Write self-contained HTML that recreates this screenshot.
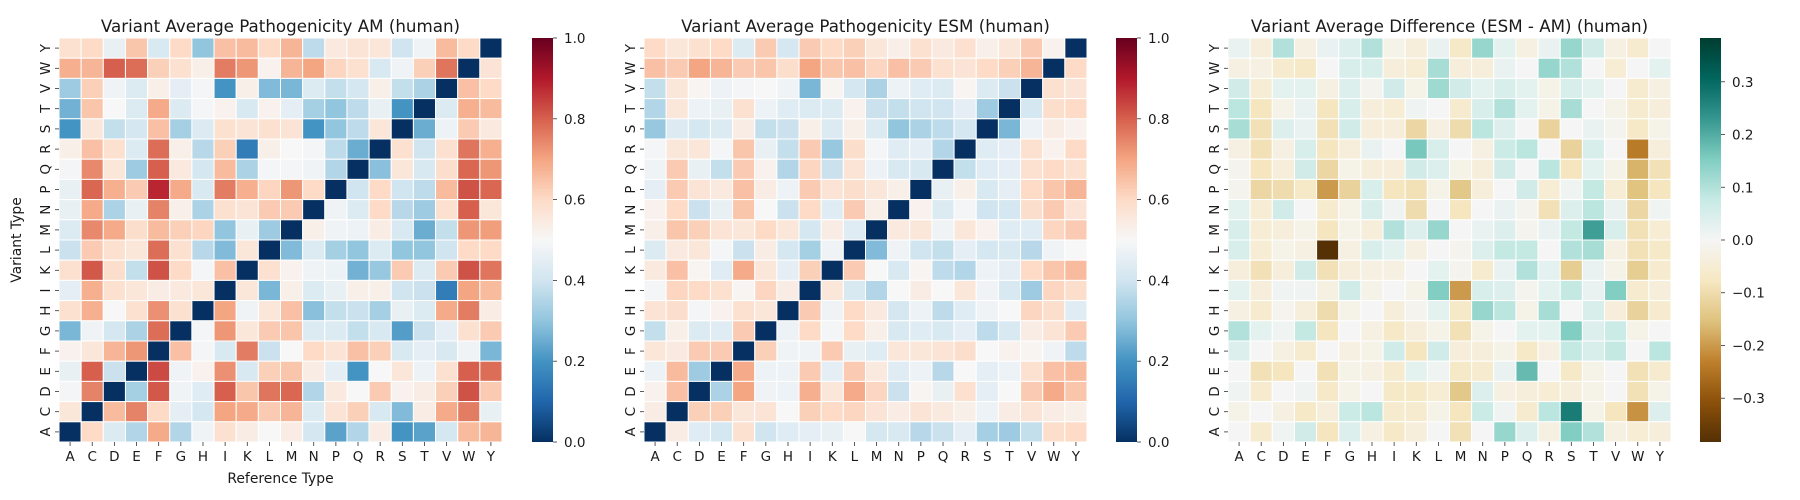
<!DOCTYPE html>
<html><head><meta charset="utf-8"><style>
html,body{margin:0;padding:0;background:#fff;}
svg{display:block;font-family:"DejaVu Sans","Liberation Sans",sans-serif;}
</style></head><body>
<svg id="chart" width="1800" height="500" viewBox="0 0 1800 500" xmlns="http://www.w3.org/2000/svg"></svg>
<script>
const refTypes = ["A","C","D","E","F","G","H","I","K","L","M","N","P","Q","R","S","T","V","W","Y"];
const variantTypes = ["Y","W","V","T","S","R","Q","P","N","M","L","K","I","H","G","F","E","D","C","A"];
const amValues = [
[0.58,0.6,0.46,0.64,0.42,0.6,0.3,0.65,0.66,0.6,0.67,0.37,0.55,0.57,0.56,0.4,0.48,0.66,0.6,0.0],
[0.68,0.67,0.8,0.78,0.62,0.58,0.53,0.76,0.72,0.52,0.67,0.7,0.61,0.58,0.42,0.48,0.62,0.77,0.0,0.57],
[0.32,0.62,0.48,0.43,0.53,0.45,0.49,0.2,0.53,0.28,0.27,0.43,0.38,0.41,0.53,0.38,0.34,0.0,0.65,0.6],
[0.26,0.64,0.5,0.43,0.69,0.43,0.49,0.52,0.42,0.52,0.45,0.33,0.3,0.37,0.46,0.2,0.0,0.43,0.68,0.66],
[0.2,0.56,0.38,0.41,0.65,0.33,0.43,0.58,0.57,0.58,0.57,0.2,0.3,0.37,0.56,0.0,0.25,0.47,0.63,0.55],
[0.53,0.65,0.58,0.43,0.78,0.53,0.36,0.62,0.15,0.53,0.5,0.49,0.37,0.25,0.0,0.58,0.4,0.58,0.77,0.68],
[0.49,0.74,0.56,0.32,0.8,0.55,0.41,0.66,0.34,0.49,0.49,0.48,0.35,0.0,0.29,0.56,0.42,0.59,0.79,0.72],
[0.46,0.79,0.68,0.63,0.88,0.69,0.42,0.76,0.68,0.61,0.72,0.6,0.0,0.4,0.6,0.4,0.37,0.66,0.82,0.79],
[0.46,0.69,0.34,0.46,0.75,0.53,0.34,0.58,0.57,0.63,0.63,0.0,0.48,0.43,0.6,0.36,0.32,0.58,0.8,0.56],
[0.43,0.74,0.69,0.59,0.66,0.62,0.61,0.3,0.46,0.32,0.0,0.53,0.48,0.47,0.54,0.42,0.25,0.38,0.72,0.71],
[0.39,0.63,0.58,0.56,0.78,0.58,0.36,0.28,0.56,0.0,0.28,0.43,0.33,0.3,0.43,0.3,0.3,0.4,0.6,0.6],
[0.58,0.81,0.59,0.38,0.82,0.6,0.49,0.65,0.0,0.58,0.52,0.48,0.47,0.26,0.31,0.63,0.43,0.63,0.82,0.77],
[0.45,0.68,0.58,0.56,0.54,0.55,0.56,0.0,0.56,0.27,0.53,0.43,0.46,0.53,0.53,0.4,0.39,0.15,0.7,0.66],
[0.58,0.68,0.5,0.58,0.73,0.58,0.0,0.7,0.48,0.56,0.65,0.29,0.38,0.39,0.33,0.46,0.43,0.69,0.76,0.54],
[0.27,0.48,0.41,0.34,0.78,0.0,0.49,0.72,0.56,0.63,0.64,0.43,0.43,0.38,0.42,0.22,0.39,0.45,0.58,0.63],
[0.52,0.56,0.67,0.72,0.0,0.65,0.49,0.42,0.76,0.39,0.5,0.6,0.57,0.65,0.62,0.42,0.45,0.42,0.48,0.27],
[0.46,0.8,0.39,0.0,0.83,0.48,0.52,0.73,0.42,0.62,0.64,0.54,0.45,0.2,0.5,0.56,0.47,0.58,0.8,0.78],
[0.49,0.75,0.0,0.33,0.81,0.48,0.44,0.8,0.64,0.77,0.79,0.35,0.55,0.5,0.63,0.52,0.54,0.62,0.82,0.63],
[0.56,0.0,0.66,0.75,0.6,0.45,0.41,0.7,0.69,0.63,0.67,0.43,0.57,0.62,0.42,0.28,0.54,0.69,0.76,0.46],
[0.0,0.6,0.43,0.35,0.69,0.35,0.48,0.58,0.54,0.5,0.54,0.41,0.23,0.35,0.54,0.2,0.23,0.41,0.66,0.67]];
const esmValues = [
[0.6,0.56,0.58,0.6,0.43,0.63,0.41,0.63,0.6,0.62,0.56,0.53,0.58,0.55,0.58,0.53,0.56,0.63,0.52,0.0],
[0.65,0.63,0.7,0.67,0.63,0.64,0.59,0.7,0.64,0.65,0.61,0.65,0.63,0.58,0.57,0.6,0.62,0.67,0.0,0.6],
[0.38,0.56,0.51,0.47,0.49,0.5,0.48,0.27,0.51,0.41,0.34,0.47,0.44,0.43,0.51,0.43,0.39,0.0,0.58,0.57],
[0.35,0.56,0.47,0.46,0.58,0.47,0.44,0.43,0.43,0.52,0.39,0.38,0.4,0.4,0.45,0.32,0.0,0.41,0.59,0.6],
[0.31,0.43,0.41,0.43,0.54,0.38,0.39,0.53,0.43,0.53,0.43,0.3,0.34,0.37,0.41,0.0,0.27,0.47,0.54,0.52],
[0.49,0.56,0.56,0.49,0.64,0.46,0.38,0.63,0.31,0.59,0.49,0.44,0.45,0.35,0.0,0.44,0.45,0.58,0.52,0.6],
[0.48,0.63,0.46,0.38,0.63,0.52,0.35,0.61,0.39,0.57,0.47,0.42,0.42,0.0,0.38,0.44,0.45,0.58,0.6,0.58],
[0.45,0.63,0.57,0.55,0.65,0.54,0.47,0.63,0.57,0.59,0.56,0.53,0.0,0.46,0.53,0.42,0.45,0.6,0.64,0.67],
[0.52,0.6,0.39,0.46,0.64,0.5,0.39,0.6,0.44,0.63,0.53,0.0,0.52,0.43,0.49,0.4,0.41,0.59,0.63,0.57],
[0.53,0.64,0.62,0.57,0.56,0.6,0.56,0.41,0.54,0.44,0.0,0.55,0.56,0.48,0.56,0.52,0.44,0.44,0.61,0.63],
[0.43,0.55,0.56,0.49,0.39,0.54,0.41,0.33,0.48,0.0,0.28,0.48,0.4,0.38,0.45,0.41,0.42,0.36,0.48,0.5],
[0.55,0.65,0.51,0.44,0.69,0.56,0.45,0.62,0.0,0.63,0.5,0.42,0.51,0.37,0.35,0.47,0.45,0.6,0.64,0.66],
[0.49,0.61,0.6,0.58,0.51,0.61,0.54,0.0,0.56,0.42,0.35,0.5,0.54,0.5,0.56,0.48,0.42,0.32,0.61,0.59],
[0.57,0.59,0.49,0.52,0.58,0.56,0.0,0.63,0.48,0.6,0.55,0.41,0.47,0.37,0.44,0.48,0.5,0.61,0.59,0.44],
[0.38,0.53,0.43,0.44,0.63,0.0,0.47,0.6,0.49,0.6,0.53,0.42,0.44,0.42,0.45,0.37,0.42,0.54,0.57,0.63],
[0.56,0.55,0.63,0.63,0.0,0.62,0.48,0.48,0.63,0.46,0.44,0.56,0.56,0.57,0.59,0.5,0.52,0.51,0.48,0.37],
[0.47,0.66,0.32,0.0,0.69,0.47,0.47,0.63,0.45,0.63,0.55,0.44,0.47,0.36,0.5,0.45,0.47,0.58,0.65,0.66],
[0.52,0.65,0.0,0.34,0.7,0.48,0.47,0.68,0.56,0.69,0.61,0.39,0.51,0.46,0.58,0.45,0.5,0.63,0.69,0.64],
[0.54,0.0,0.62,0.62,0.56,0.57,0.5,0.62,0.6,0.61,0.57,0.54,0.57,0.55,0.53,0.47,0.54,0.57,0.54,0.53],
[0.0,0.54,0.44,0.41,0.58,0.4,0.44,0.45,0.46,0.5,0.41,0.42,0.36,0.39,0.45,0.33,0.32,0.38,0.59,0.6]];
const diffValues = [
[0.02,-0.04,0.1,-0.03,0.02,0.04,0.1,-0.02,-0.04,0.02,-0.07,0.13,0.03,-0.03,0.02,0.13,0.06,-0.03,-0.06,0.0],
[-0.03,-0.03,-0.06,-0.07,0.0,0.05,0.05,-0.04,-0.05,0.11,-0.04,-0.04,0.02,0.0,0.13,0.1,0.0,-0.05,0.0,0.03],
[0.06,-0.05,0.03,0.03,-0.03,0.04,-0.01,0.06,-0.02,0.12,0.06,0.03,0.05,0.03,-0.02,0.05,0.03,0.0,-0.06,-0.03],
[0.09,-0.08,-0.02,0.02,-0.08,0.05,-0.04,-0.05,0.01,0.0,-0.06,0.05,0.1,0.03,-0.02,0.11,0.0,-0.02,-0.06,-0.04],
[0.11,-0.09,0.04,0.02,-0.09,0.06,-0.04,-0.04,-0.11,-0.03,-0.1,0.09,0.04,0.0,-0.12,0.0,0.02,-0.01,-0.07,-0.02],
[-0.03,-0.09,-0.03,0.05,-0.08,-0.04,0.02,0.0,0.16,0.05,0.0,-0.03,0.07,0.09,0.0,-0.12,0.05,0.0,-0.24,-0.04],
[-0.01,-0.08,-0.04,0.06,-0.11,-0.02,-0.04,-0.04,0.06,0.04,-0.02,-0.04,0.06,0.0,0.09,-0.08,0.03,-0.02,-0.17,-0.09],
[-0.01,-0.11,-0.1,-0.07,-0.2,-0.12,0.05,-0.08,-0.09,-0.02,-0.14,-0.04,0.0,0.06,-0.05,0.01,0.08,-0.05,-0.15,-0.08],
[0.03,-0.05,0.06,0.0,-0.06,-0.02,0.05,0.01,-0.1,0.0,-0.08,0.0,0.02,-0.01,-0.09,0.04,0.09,0.02,-0.11,0.01],
[0.05,-0.05,-0.04,-0.02,-0.08,-0.02,-0.04,0.1,0.04,0.13,0.0,0.02,0.04,-0.01,0.02,0.08,0.22,0.05,-0.09,-0.05],
[0.05,-0.05,-0.02,-0.03,-0.38,-0.03,0.05,0.03,-0.03,0.0,-0.01,0.04,0.08,0.08,0.0,0.1,0.11,-0.03,-0.09,-0.07],
[-0.04,-0.09,-0.04,0.06,-0.09,-0.04,-0.03,-0.03,0.0,0.03,-0.01,-0.06,0.02,0.1,0.03,-0.13,0.02,-0.02,-0.13,-0.06],
[0.03,-0.04,0.01,0.01,-0.03,0.06,-0.02,0.0,-0.02,0.15,-0.2,0.05,0.04,-0.01,0.03,0.08,0.02,0.15,-0.06,-0.04],
[-0.03,-0.06,-0.01,-0.04,-0.1,-0.02,0.0,-0.04,-0.01,0.03,-0.07,0.13,0.09,-0.02,0.11,0.0,0.05,-0.04,-0.12,-0.06],
[0.1,0.03,0.01,0.08,-0.08,0.0,-0.03,-0.07,-0.04,-0.02,-0.09,-0.02,0.0,0.03,0.03,0.15,0.04,0.07,-0.02,0.0],
[0.04,0.0,-0.03,-0.06,0.0,-0.03,-0.02,0.06,-0.08,0.06,-0.04,-0.04,-0.02,-0.07,-0.03,0.08,0.05,0.08,0.0,0.09],
[0.0,-0.09,-0.08,0.0,-0.09,-0.02,-0.03,-0.06,0.03,0.01,-0.07,-0.06,0.02,0.18,0.0,-0.07,-0.02,0.0,-0.09,-0.06],
[0.01,-0.06,0.0,0.01,-0.07,-0.02,0.0,-0.07,-0.07,-0.05,-0.14,0.04,-0.03,-0.04,-0.05,-0.04,-0.02,0.0,-0.09,-0.02],
[-0.02,0.0,-0.03,-0.07,-0.04,0.07,0.09,-0.06,-0.06,-0.02,-0.08,0.07,0.01,-0.06,0.09,0.27,-0.02,-0.08,-0.21,0.04],
[0.0,-0.06,0.01,0.06,-0.08,0.04,-0.03,-0.07,-0.04,0.0,-0.09,0.0,0.13,0.04,-0.03,0.15,0.1,-0.03,-0.05,-0.04]];
const pathoTicks = [0.0,0.2,0.4,0.6,0.8,1.0];
const diffTicks = [-0.3,-0.2,-0.1,0.0,0.1,0.2,0.3];
const diffLimit = 0.383;

const RDBU_R = ["#053061","#2166ac","#4393c3","#92c5de","#d1e5f0","#f7f7f7","#fddbc7","#f4a582","#d6604d","#b2182b","#67001f"];
const BRBG = ["#543005","#8c510a","#bf812d","#dfc27d","#f6e8c3","#f5f5f5","#c7eae5","#80cdc1","#35978f","#01665e","#003c30"];
function hex(h){return [parseInt(h.slice(1,3),16),parseInt(h.slice(3,5),16),parseInt(h.slice(5,7),16)];}
function cmap(stops,t){t=Math.max(0,Math.min(1,t));const p=t*(stops.length-1);const i=Math.min(Math.floor(p),stops.length-2);const f=p-i;const a=hex(stops[i]),b=hex(stops[i+1]);return "rgb("+a.map((v,k)=>Math.round(v+(b[k]-v)*f)).join(",")+")";}

const NS="http://www.w3.org/2000/svg";
const svg=document.getElementById("chart");
function mk(tag,attrs,parent){const e=document.createElementNS(NS,tag);for(const k in attrs)e.setAttribute(k,attrs[k]);(parent||svg).appendChild(e);return e;}

const TOP=38, BOTTOM=442;
function drawPanel(key,x0,x1,title,values,stops,vmin,vmax,ticks,cbX,showYLabel,showXLabel,fmt){
  const g=mk("g",{});
  
  
  const cw=(x1-x0)/refTypes.length, ch=(BOTTOM-TOP)/variantTypes.length;
  const xs=i=>x0+i*cw, ys=j=>TOP+j*ch;
  const norm=v=>(v-vmin)/(vmax-vmin);
  values.forEach((row,j)=>row.forEach((v,i)=>{
    const r=mk("rect",{x:xs(i),y:ys(j),width:cw,height:ch,fill:cmap(stops,norm(v)),stroke:"#fff","stroke-width":1},g);
    
    
  }));
  const t=mk("text",{x:(x0+x1)/2,y:32,"text-anchor":"middle","font-size":"16.7",fill:"#1a1a1a"},g);
  t.textContent=title;
  
  
  refTypes.forEach((l,i)=>{
    const cx=xs(i)+cw/2;
    mk("line",{x1:cx,x2:cx,y1:BOTTOM,y2:BOTTOM+4,stroke:"#333","stroke-width":0.8},g);
    const tx=mk("text",{x:cx,y:BOTTOM+19,"text-anchor":"middle","font-size":"13.5",fill:"#1a1a1a"},g);
    tx.textContent=l;
    
    
  });
  variantTypes.forEach((l,j)=>{
    const cy=ys(j)+ch/2;
    mk("line",{x1:x0-4,x2:x0,y1:cy,y2:cy,stroke:"#333","stroke-width":0.8},g);
    const ty=mk("text",{x:x0-9,y:cy,"text-anchor":"middle","font-size":"13.5",fill:"#1a1a1a",transform:"rotate(-90 "+(x0-9)+" "+cy+")"},g);
    ty.textContent=l;
    
    
  });
  if(showXLabel){
    const xl=mk("text",{x:(x0+x1)/2,y:483,"text-anchor":"middle","font-size":"13.9",fill:"#1a1a1a"},g);
    xl.textContent="Reference Type";
    
    
  }
  if(showYLabel){
    const yc=(TOP+BOTTOM)/2;
    const yl=mk("text",{x:21,y:yc,"text-anchor":"middle","font-size":"13.9",fill:"#1a1a1a",transform:"rotate(-90 21 "+yc+")"},g);
    yl.textContent="Variant Type";
    
    
  }
  // colorbar
  const gid="grad-"+key;
  const defs=mk("defs",{},g);
  const lg=mk("linearGradient",{id:gid,x1:0,y1:1,x2:0,y2:0},defs);
  stops.forEach((c,k)=>mk("stop",{offset:(k/(stops.length-1)),"stop-color":c},lg));
  const cb=mk("rect",{x:cbX,y:TOP,width:21,height:BOTTOM-TOP,fill:"url(#"+gid+")"},g);
  
  
  const cy=v=>BOTTOM-norm(v)*(BOTTOM-TOP);
  ticks.forEach(v=>{
    const y=cy(v);
    mk("line",{x1:cbX+21,x2:cbX+25,y1:y,y2:y,stroke:"#333","stroke-width":0.8},g);
    const tl=mk("text",{x:cbX+32,y:y+5,"font-size":"13.5",fill:"#1a1a1a"},g);
    tl.textContent=fmt(v);
    
    
  });
}
const f1=v=>v.toFixed(1);
const f2=v=>(v<0?"\u2212":"")+Math.abs(v).toFixed(1);
drawPanel("am",59,502,"Variant Average Pathogenicity AM (human)",amValues,RDBU_R,0,1,pathoTicks,532,true,true,f1);
drawPanel("esm",644,1087,"Variant Average Pathogenicity ESM (human)",esmValues,RDBU_R,0,1,pathoTicks,1116,false,false,f1);
drawPanel("diff",1228,1671,"Variant Average Difference (ESM - AM) (human)",diffValues,BRBG,-diffLimit,diffLimit,diffTicks,1700,false,false,f2);
</script>
</body></html>
